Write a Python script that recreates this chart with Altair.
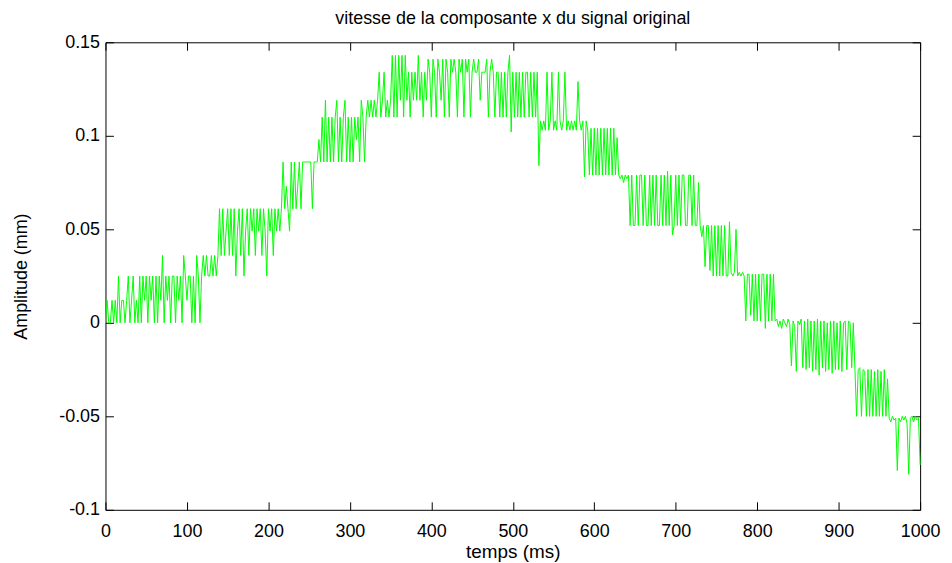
import altair as alt
import pandas as pd

TITLE = "vitesse de la composante x du signal original"
X_TITLE = "temps (ms)"
Y_TITLE = "Amplitude (mm)"
SAMPLE_MS = 2
x_ticks = [0, 100, 200, 300, 400, 500, 600, 700, 800, 900, 1000]
y_ticks = [-0.1, -0.05, 0, 0.05, 0.1, 0.15]

seg_000 = [0, 0.012, 0, 0, 0.012, 0, 0.012, 0, 0.025, 0,
           0.012, 0.012, 0, 0.012, 0.025, 0, 0.012, 0.025, 0, 0.012,
           0, 0.025, 0, 0.025, 0.012, 0.025, 0, 0.025, 0.012, 0.025,
           0, 0.025, 0, 0.025, 0.012, 0.036, 0, 0.025, 0.012, 0.025,
           0, 0.025, 0.025, 0, 0.025, 0.012, 0.025, 0, 0.036, 0.025]
seg_100 = [0.012, 0.025, 0.025, 0, 0.025, 0, 0.036, 0.025, 0, 0.025,
           0.036, 0.025, 0.036, 0.025, 0.025, 0.036, 0.025, 0.036, 0.025, 0.036,
           0.061, 0.036, 0.061, 0.036, 0.049, 0.061, 0.036, 0.061, 0.036, 0.061,
           0.025, 0.049, 0.061, 0.036, 0.061, 0.025, 0.049, 0.061, 0.036, 0.061,
           0.049, 0.061, 0.036, 0.061, 0.049, 0.061, 0.036, 0.061, 0.049, 0.025]
seg_200 = [0.061, 0.049, 0.061, 0.036, 0.061, 0.049, 0.061, 0.049, 0.061, 0.086,
           0.061, 0.073, 0.061, 0.049, 0.086, 0.061, 0.086, 0.061, 0.073, 0.086,
           0.061, 0.086, 0.086, 0.086, 0.086, 0.086, 0.086, 0.061, 0.086, 0.086,
           0.086, 0.098, 0.086, 0.110, 0.086, 0.119, 0.086, 0.110, 0.086, 0.110,
           0.086, 0.110, 0.119, 0.086, 0.110, 0.086, 0.110, 0.119, 0.086, 0.110]
seg_300 = [0.086, 0.110, 0.086, 0.110, 0.098, 0.110, 0.086, 0.119, 0.110, 0.086,
           0.110, 0.119, 0.110, 0.119, 0.110, 0.119, 0.110, 0.119, 0.134, 0.110,
           0.119, 0.134, 0.110, 0.119, 0.110, 0.119, 0.143, 0.110, 0.143, 0.110,
           0.143, 0.119, 0.143, 0.110, 0.143, 0.119, 0.134, 0.110, 0.134, 0.119,
           0.134, 0.119, 0.143, 0.119, 0.134, 0.110, 0.134, 0.119, 0.141, 0.134]
seg_400 = [0.110, 0.141, 0.134, 0.110, 0.141, 0.134, 0.119, 0.141, 0.110, 0.141,
           0.134, 0.110, 0.141, 0.134, 0.141, 0.134, 0.110, 0.141, 0.134, 0.141,
           0.110, 0.141, 0.134, 0.141, 0.110, 0.134, 0.141, 0.134, 0.134, 0.141,
           0.119, 0.134, 0.134, 0.134, 0.141, 0.110, 0.134, 0.141, 0.134, 0.110,
           0.134, 0.134, 0.110, 0.134, 0.110, 0.134, 0.110, 0.134, 0.143, 0.102]
seg_500 = [0.134, 0.110, 0.134, 0.110, 0.134, 0.110, 0.134, 0.110, 0.134, 0.134,
           0.110, 0.134, 0.110, 0.134, 0.110, 0.134, 0.084, 0.108, 0.103, 0.108,
           0.103, 0.134, 0.103, 0.108, 0.134, 0.103, 0.108, 0.103, 0.134, 0.108,
           0.103, 0.108, 0.134, 0.103, 0.108, 0.103, 0.108, 0.103, 0.108, 0.103,
           0.129, 0.108, 0.103, 0.108, 0.078, 0.108, 0.103, 0.079, 0.104, 0.079]
seg_600 = [0.104, 0.079, 0.104, 0.079, 0.104, 0.079, 0.104, 0.079, 0.104, 0.079,
           0.104, 0.079, 0.104, 0.079, 0.099, 0.079, 0.077, 0.079, 0.075, 0.079,
           0.077, 0.079, 0.052, 0.079, 0.052, 0.052, 0.079, 0.052, 0.079, 0.079,
           0.052, 0.079, 0.052, 0.052, 0.079, 0.052, 0.079, 0.052, 0.079, 0.052,
           0.052, 0.079, 0.052, 0.079, 0.052, 0.081, 0.052, 0.079, 0.047, 0.052]
seg_700 = [0.079, 0.052, 0.079, 0.052, 0.079, 0.079, 0.052, 0.052, 0.079, 0.079,
           0.052, 0.079, 0.052, 0.052, 0.075, 0.052, 0.046, 0.052, 0.030, 0.052,
           0.052, 0.028, 0.052, 0.025, 0.052, 0.025, 0.052, 0.025, 0.052, 0.025,
           0.052, 0.025, 0.025, 0.054, 0.027, 0.025, 0.027, 0.050, 0.025, 0.027,
           0.025, 0.027, 0.025, 0.001, 0.026, 0.026, 0.004, 0.026, 0.001, 0.026]
seg_800 = [0.001, 0.026, 0.001, 0.026, 0.026, -0.003, 0.026, 0.001, 0.026, 0.001,
           0.026, 0.001, 0.002, -0.002, 0.001, -0.003, 0.002, 0.000, -0.002, 0.002,
           -0.001, -0.023, 0.001, -0.002, -0.026, 0.001, -0.001, 0.002, -0.024, 0.001,
           -0.025, 0.002, -0.024, 0.001, -0.026, 0.001, -0.025, 0.002, -0.028, 0.001,
           -0.024, 0.001, -0.026, 0.000, -0.025, 0.001, -0.027, 0.001, -0.025, 0.000]
seg_900 = [-0.025, 0.001, -0.026, 0.000, 0.001, -0.025, 0.001, 0.000, -0.024, 0.000,
           -0.025, -0.050, -0.025, -0.024, -0.050, -0.025, -0.026, -0.050, -0.025, -0.050,
           -0.025, -0.050, -0.026, -0.050, -0.025, -0.050, -0.026, -0.050, -0.025, -0.050,
           -0.030, -0.051, -0.053, -0.050, -0.052, -0.051, -0.079, -0.051, -0.053, -0.050,
           -0.052, -0.050, -0.054, -0.081, -0.051, -0.050, -0.053, -0.050, -0.052, -0.051,
           -0.076]

segments = [seg_000, seg_100, seg_200, seg_300, seg_400,
            seg_500, seg_600, seg_700, seg_800, seg_900]
values = [v for seg in segments for v in seg]
times = [i * SAMPLE_MS for i in range(len(values))]
df = pd.DataFrame({"t": times, "v": values})

FONT = "Liberation Sans"
x_scale = alt.Scale(domain=[0, 1000], nice=False, zero=False)
y_scale = alt.Scale(domain=[-0.1, 0.15], nice=False, zero=False)

axis_common = dict(
    domain=False, grid=False, ticks=True, tickSize=8, tickColor="black",
    tickWidth=1, offset=-8, labelFont=FONT, labelFontSize=18,
    labelColor="black", titleFont=FONT, titleColor="black",
    titleFontWeight="normal", labelFlush=False, labelOverlap=False,
)

main = alt.Chart(df).mark_line(color="#00ff00", strokeWidth=1).encode(
    x=alt.X("t:Q", scale=x_scale,
            axis=alt.Axis(orient="bottom", values=x_ticks, format="d",
                          title=X_TITLE, titleFontSize=19, labelPadding=13,
                          titleY=56, titleBaseline="alphabetic",
                          **axis_common)),
    y=alt.Y("v:Q", scale=y_scale,
            axis=alt.Axis(orient="left", values=y_ticks,
                          labelExpr="toString(round(datum.value*100)/100)",
                          title=Y_TITLE, titleFontSize=18, labelPadding=6,
                          titlePadding=28, **axis_common)),
)

mirror = alt.Chart(df).mark_line(strokeOpacity=0).encode(
    x=alt.X("t:Q", scale=x_scale,
            axis=alt.Axis(orient="top", values=x_ticks, labels=False,
                          title=None, **axis_common)),
    y=alt.Y("v:Q", scale=y_scale,
            axis=alt.Axis(orient="right", values=y_ticks, labels=False,
                          title=None, **axis_common)),
)

chart = alt.layer(main, mirror).resolve_axis(
    x="independent", y="independent"
).properties(
    width=819, height=470,
    autosize=alt.AutoSizeParams(type="none"),
    padding={"left": 98, "top": 33, "right": 24, "bottom": 52},
    title=alt.TitleParams(TITLE, font=FONT, fontSize=18, fontWeight="normal",
                          color="black", anchor="middle", offset=5),
).configure_view(stroke="black", strokeWidth=1)

chart.save("out.html", embed_options={"renderer": "svg", "actions": False})
